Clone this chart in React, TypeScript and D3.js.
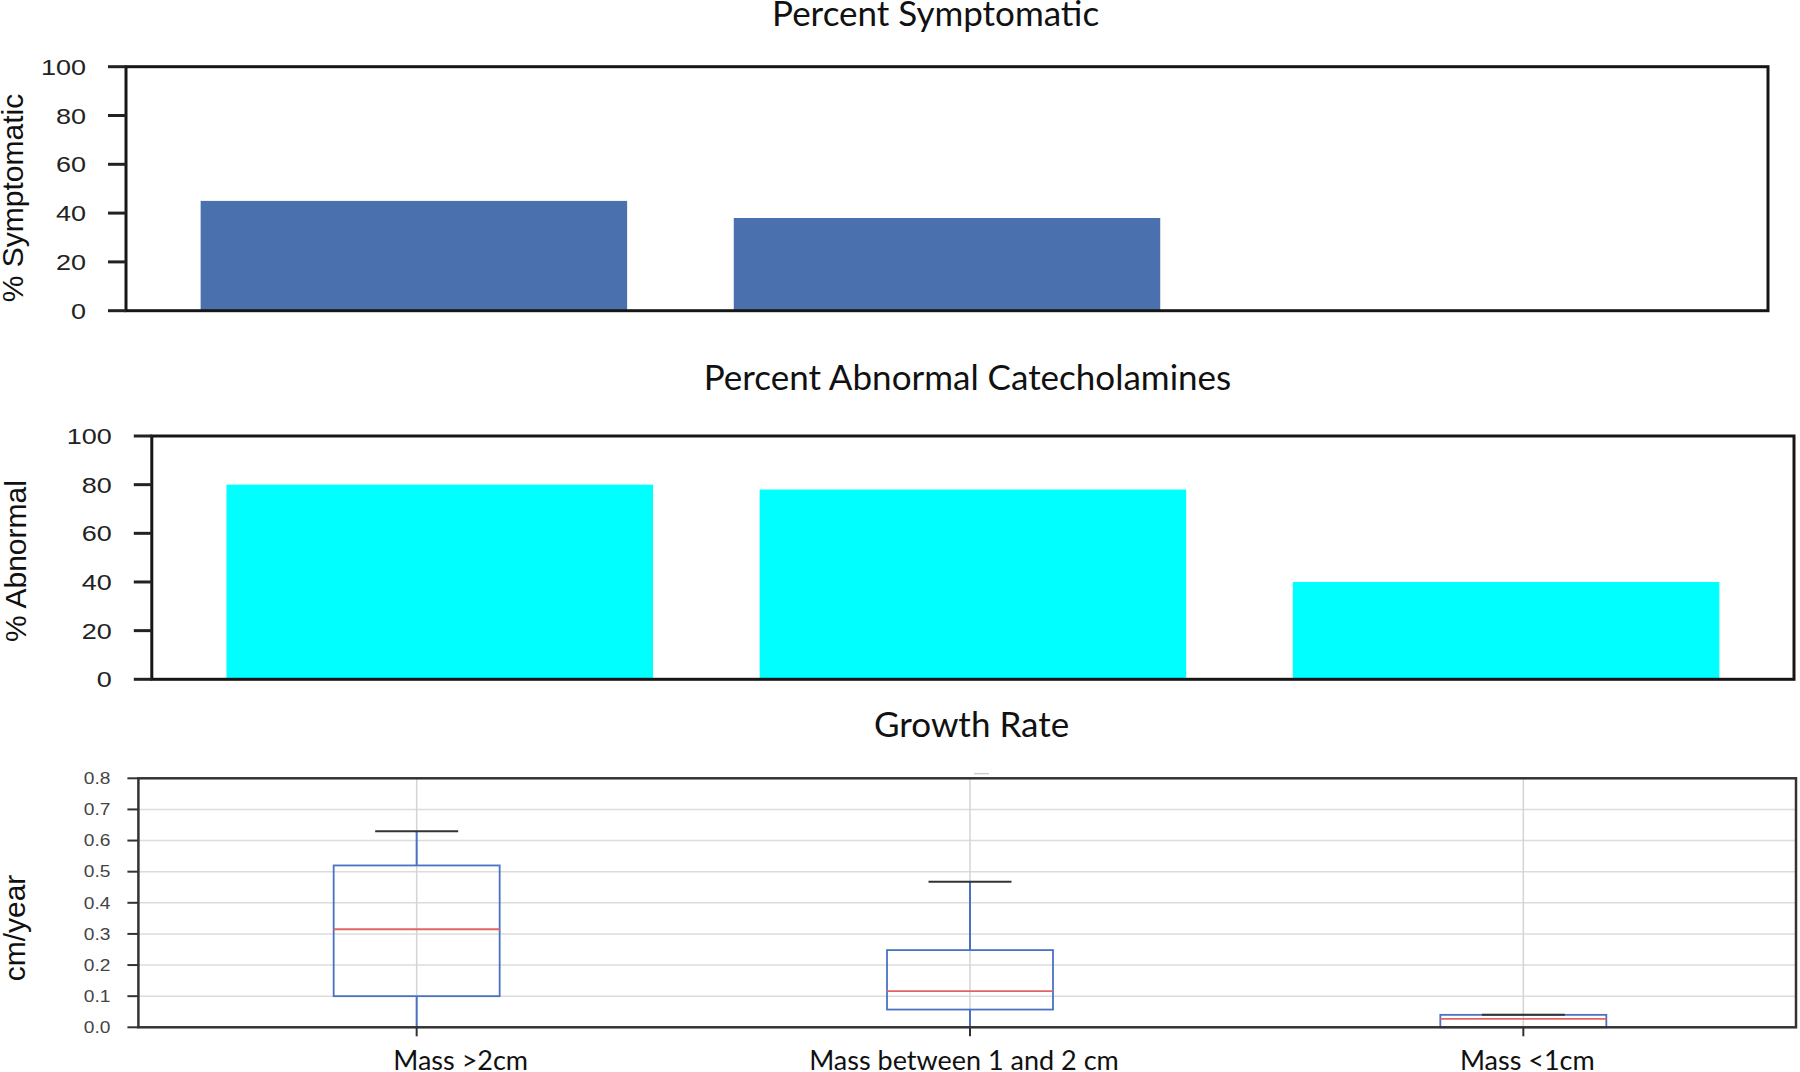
import React from "react";
import * as d3 from "d3";

const categories = ["Mass >2cm", "Mass between 1 and 2 cm", "Mass <1cm"];
const symptomatic = [45, 38, 0];
const abnormal = [80, 78, 40];
const growthQ1 = [0.1, 0.057, 0.0];
const growthMedian = [0.315, 0.116, 0.027];
const growthQ3 = [0.52, 0.248, 0.04];
const growthLow = [0, 0, 0];
const growthHigh = [0.63, 0.468, 0.04];
const growthFlier = [null, 0.815, null];

const titles = ["Percent Symptomatic", "Percent Abnormal Catecholamines", "Growth Rate"];
const yLabels = ["% Symptomatic", "% Abnormal", "cm/year"];

const TITLE_FONT = "Lato, 'Open Sans', sans-serif";
const ARIAL = "'Liberation Sans', Arial, sans-serif";

function BarPanel({ values, color, left, right, top, bottom, title, titleX, titleY, yLabel, yLabelX, yLabelY }) {
  const x = d3.scaleBand().domain(categories).range([left, right]).paddingInner(0.2).paddingOuter(0.14);
  const y = d3.scaleLinear().domain([0, 100]).range([bottom, top]);
  const ticks = y.ticks(5);
  return (
    <g>
      <text x={titleX} y={titleY} textAnchor="middle" fontFamily={TITLE_FONT} fontSize={35} fill="#111">{title}</text>
      {categories.map((c, i) => (
        values[i] > 0 ? (
          <rect key={c} x={x(c)} y={y(values[i])} width={x.bandwidth()} height={y(0) - y(values[i])} fill={color} />
        ) : null
      ))}
      <rect x={left} y={top} width={right - left} height={bottom - top} fill="none" stroke="#161616" strokeWidth={3} />
      {ticks.map((t) => (
        <g key={t}>
          <line x1={left - 18} x2={left} y1={y(t)} y2={y(t)} stroke="#222" strokeWidth={3} />
          <text transform={`translate(${left - 40},${y(t)}) scale(1.2,1)`} dy="0.36em" textAnchor="end" fontFamily={ARIAL} fontSize={22.5} fill="#222">{t}</text>
        </g>
      ))}
      <text transform={`translate(${yLabelX},${yLabelY}) rotate(-90)`} textAnchor="middle" fontFamily={ARIAL} fontSize={30} fill="#111">{yLabel}</text>
    </g>
  );
}

function BoxPanel() {
  const left = 138.4, right = 1796, top = 778.3, bottom = 1027.3;
  const x = d3.scalePoint().domain(categories).range([140, 1800]).padding(0.5);
  const step = x.step();
  const y = d3.scaleLinear().domain([0, 0.8]).range([bottom, top]);
  const ticks = y.ticks(8);
  const boxW = step * 0.3;
  const capW = step * 0.15;
  const labelDx = [44, -6, 4];
  return (
    <g>
      <text x={971.6} y={736.7} textAnchor="middle" fontFamily={TITLE_FONT} fontSize={35} fill="#111">{titles[2]}</text>
      {ticks.filter((t) => t > 0 && t < 0.8).map((t) => (
        <line key={"g" + t} x1={left} x2={right} y1={y(t)} y2={y(t)} stroke="#dcdcdc" strokeWidth={1.5} />
      ))}
      {categories.map((c) => (
        <line key={"v" + c} x1={x(c)} x2={x(c)} y1={top} y2={bottom} stroke="#d4d4d4" strokeWidth={1.5} />
      ))}
      {categories.map((c, i) => {
        const cx = x(c);
        return (
          <g key={c}>
            <line x1={cx} x2={cx} y1={y(growthQ3[i])} y2={y(growthHigh[i])} stroke="#4a72c4" strokeWidth={2} />
            <line x1={cx} x2={cx} y1={y(growthQ1[i])} y2={y(growthLow[i])} stroke="#4a72c4" strokeWidth={2} />
            <rect x={cx - boxW / 2} y={y(growthQ3[i])} width={boxW} height={y(growthQ1[i]) - y(growthQ3[i])} fill="none" stroke="#4a72c4" strokeWidth={1.8} />
            <line x1={cx - boxW / 2} x2={cx + boxW / 2} y1={y(growthMedian[i])} y2={y(growthMedian[i])} stroke="#e06464" strokeWidth={1.8} />
            <line x1={cx - capW / 2} x2={cx + capW / 2} y1={y(growthHigh[i])} y2={y(growthHigh[i])} stroke="#333" strokeWidth={2} />
            {growthFlier[i] != null ? (
              <line x1={cx + 4} x2={cx + 19} y1={y(growthFlier[i])} y2={y(growthFlier[i])} stroke="#cfcfcf" strokeWidth={1.5} />
            ) : null}
            <line x1={cx} x2={cx} y1={bottom} y2={bottom + 9} stroke="#333" strokeWidth={2} />
            <text x={cx + labelDx[i]} y={1070} textAnchor="middle" fontFamily={TITLE_FONT} fontSize={27} fill="#111">{c}</text>
          </g>
        );
      })}
      <rect x={left} y={top} width={right - left} height={bottom - top} fill="none" stroke="#333" strokeWidth={2.5} />
      {ticks.map((t) => (
        <g key={t}>
          <line x1={left - 11} x2={left} y1={y(t)} y2={y(t)} stroke="#333" strokeWidth={2} />
          <text transform={`translate(${left - 28},${y(t)}) scale(1.2,1)`} dy="0.36em" textAnchor="end" fontFamily={ARIAL} fontSize={16} fill="#444">{d3.format(".1f")(t)}</text>
        </g>
      ))}
      <text transform={`translate(${25},${928}) rotate(-90)`} textAnchor="middle" fontFamily={ARIAL} fontSize={30} fill="#111">{yLabels[2]}</text>
    </g>
  );
}

export default function App() {
  return (
    <svg width={1800} height={1072} style={{ position: "absolute", left: 0, top: 0, background: "#fff" }}>
      <rect width={1800} height={1072} fill="#fff" />
      <BarPanel values={symptomatic} color="#4a71ae" left={126} right={1768} top={66.7} bottom={310.7}
        title={titles[0]} titleX={935.6} titleY={26} yLabel={yLabels[0]} yLabelX={23} yLabelY={198} />
      <BarPanel values={abnormal} color="#00ffff" left={151.8} right={1794} top={436} bottom={679.3}
        title={titles[1]} titleX={967.5} titleY={390} yLabel={yLabels[1]} yLabelX={26} yLabelY={561} />
      <BoxPanel />
    </svg>
  );
}
